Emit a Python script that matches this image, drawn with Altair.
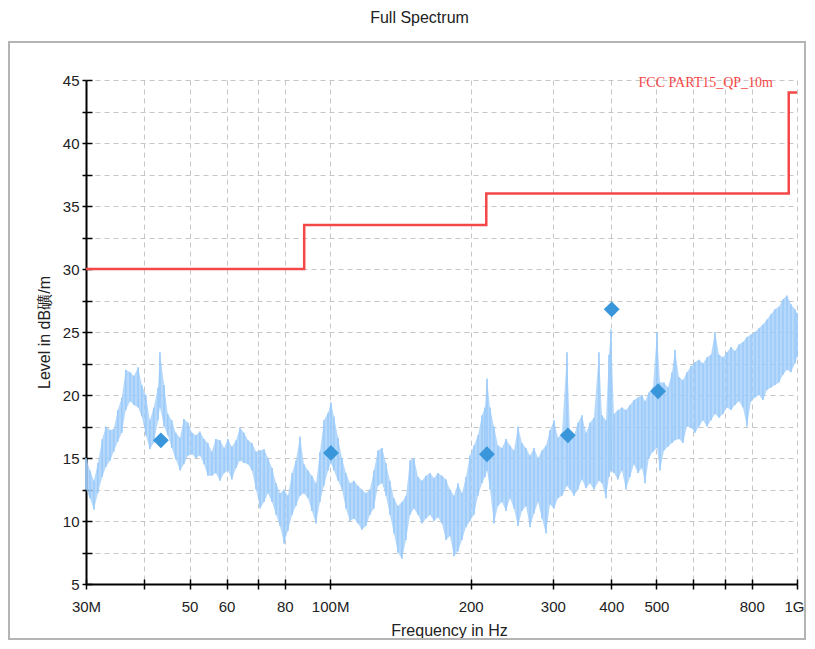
import altair as alt
import pandas as pd

# ---------------- data ----------------
freq_mhz = [30.0, 30.6, 31.2, 31.8, 32.5, 33.1, 33.8, 34.4, 35.1, 35.8, 36.5, 37.3, 38.0, 38.8, 39.5,
            40.3, 41.1, 41.9, 42.8, 43.2, 44.1, 44.9, 45.8, 46.7, 47.7, 48.6, 49.6, 50.6, 51.6, 52.6,
            53.7, 54.7, 55.8, 56.9, 58.1, 59.3, 60.4, 61.6, 62.9, 64.1, 65.4, 66.7, 68.0, 69.4, 70.8,
            72.2, 73.6, 75.1, 76.6, 78.1, 79.7, 81.2, 82.9, 84.5, 86.2, 87.9, 89.7, 91.4, 93.3, 95.1,
            97.0, 99.0, 100.4, 101.9, 104.0, 106.0, 108.1, 110.3, 112.5, 114.7, 117.0, 119.3, 121.7,
            124.1, 126.6, 129.2, 131.7, 134.3, 137.0, 139.7, 142.5, 145.4, 148.3, 151.2, 154.3, 157.3,
            160.4, 163.7, 166.9, 170.2, 173.6, 177.1, 180.6, 184.2, 187.9, 191.6, 195.4, 199.3, 203.3,
            207.4, 211.5, 214.6, 216.8, 220.0, 224.4, 228.8, 233.4, 238.1, 242.8, 247.6, 252.6, 257.6,
            262.7, 268.0, 273.3, 278.8, 284.3, 290.0, 295.7, 301.7, 307.6, 313.8, 321.6, 326.4, 332.9,
            339.5, 346.3, 353.2, 360.2, 367.4, 376.5, 382.2, 389.8, 395.6, 399.5, 405.5, 413.5, 421.8,
            430.2, 438.8, 447.5, 456.5, 465.5, 472.5, 481.8, 491.4, 501.3, 508.8, 518.9, 529.2, 539.8,
            547.9, 558.8, 570.0, 581.3, 592.9, 604.7, 616.7, 629.0, 641.6, 654.3, 667.4, 680.7, 694.1,
            708.0, 722.2, 736.4, 751.1, 766.1, 781.3, 797.0, 812.9, 829.0, 845.5, 862.4, 879.5, 897.1,
            915.0, 933.1, 951.7, 970.8, 989.9, 1000.0]

level_lo = [12.5, 11.8, 10.9, 12.2, 13.5, 14.3, 14.8, 15.5, 16.3, 17.0, 18.8, 19.5, 19.2, 19.0, 18.3,
            16.8, 15.7, 16.2, 18.0, 19.0, 17.5, 16.8, 15.8, 14.9, 14.0, 14.5, 15.2, 15.3, 15.0, 15.2,
            14.5, 13.6, 13.6, 13.8, 13.2, 13.8, 14.0, 13.3, 14.2, 14.8, 14.6, 14.5, 14.0, 12.5, 11.0,
            11.5, 12.2, 11.5, 10.5, 9.6, 8.2, 9.2, 10.5, 11.2, 12.0, 12.2, 11.8, 10.8, 9.8, 11.5,
            12.8, 14.0, 14.6, 14.0, 13.2, 12.5, 11.0, 10.0, 10.2, 9.8, 9.3, 9.6, 10.5,
            11.0, 12.8, 13.0, 12.0, 10.5, 9.0, 7.5, 7.0, 8.5, 10.5, 11.0, 10.5, 9.8,
            10.2, 10.5, 10.0, 10.3, 9.8, 8.5, 8.8, 7.2, 7.6, 8.5, 9.5, 10.0, 10.5,
            12.0, 13.0, 13.5, 14.0, 12.5, 9.8, 11.2, 11.5, 10.8, 11.8, 11.0, 9.6, 10.8,
            11.2, 9.5, 10.6, 11.5, 10.2, 9.0, 11.3, 11.0, 11.8, 12.0, 12.8, 12.5, 12.0,
            12.5, 13.3, 12.6, 13.0, 12.5, 13.2, 13.0, 11.8, 13.5, 14.0, 13.8, 13.3, 14.0,
            12.5, 13.5, 14.5, 13.8, 14.2, 13.0, 15.0, 15.5, 15.8, 14.0, 15.6, 15.9, 16.2,
            16.4, 16.5, 16.2, 17.5, 17.4, 17.0, 17.5, 18.0, 17.5, 18.0, 18.5, 18.2, 18.5,
            19.0, 18.8, 19.2, 19.5, 19.0, 17.5, 19.5, 19.8, 20.0, 19.6, 20.4, 20.6, 20.8,
            21.0, 21.6, 22.0, 21.8, 22.5, 23.0]

level_hi = [15.0, 14.0, 13.2, 14.6, 16.5, 17.5, 17.2, 17.3, 18.8, 19.8, 22.0, 21.8, 21.5, 22.2, 20.8,
            20.0, 18.0, 19.0, 20.6, 23.4, 20.8, 18.5, 18.0, 17.0, 16.6, 18.1, 17.8, 17.0, 16.8, 17.1,
            16.5, 16.2, 15.5, 16.5, 16.4, 15.8, 16.5, 15.9, 16.4, 17.4, 17.0, 16.4, 16.2, 15.5, 15.6,
            15.7, 15.0, 14.2, 13.0, 12.2, 12.5, 12.0, 13.8, 14.8, 16.7, 14.5, 14.0, 13.6, 13.0, 15.5,
            18.0, 18.6, 19.4, 18.3, 16.6, 15.0, 13.8, 13.0, 13.2, 12.8, 12.5, 12.2, 12.5,
            14.0, 15.6, 15.8, 14.6, 13.2, 11.8, 11.2, 11.5, 12.0, 14.8, 15.0, 13.5, 13.2,
            13.6, 13.8, 13.4, 13.8, 13.6, 13.3, 12.5, 12.0, 13.0, 12.2, 13.5, 15.2, 16.0,
            16.8, 18.4, 19.0, 21.3, 19.0, 17.5, 16.0, 15.8, 16.5, 16.0, 15.6, 17.5, 16.2,
            15.8, 15.2, 15.8, 15.0, 15.6, 16.0, 17.2, 18.0, 16.6, 17.0, 23.4, 17.0, 16.8,
            17.8, 18.4, 17.0, 17.8, 18.2, 23.4, 18.4, 18.0, 23.2, 25.2, 18.5, 18.8, 19.0,
            18.8, 19.2, 19.6, 19.8, 20.0, 19.5, 20.2, 20.6, 25.0, 21.0, 21.0, 20.6, 21.8,
            23.6, 21.4, 21.2, 21.8, 22.3, 22.6, 22.8, 22.5, 23.0, 23.2, 25.0, 23.2, 23.0,
            23.4, 23.8, 23.5, 24.0, 24.2, 24.6, 24.8, 25.0, 25.3, 25.6, 26.0, 26.4, 26.8,
            27.0, 27.6, 27.9, 27.2, 26.8, 26.5]

qp_freq = [43.4, 100.4, 216.7, 323.0, 401.0, 504.0]
qp_level = [16.4, 15.4, 15.3, 16.8, 26.8, 20.3]

limit_freq = [30, 88, 216, 960, 1000]
limit_level = [30.0, 33.5, 36.0, 44.0, 44.0]
limit_name = "FCC PART15_QP_10m"

x_ticks = [30, 40, 50, 60, 70, 80, 100, 200, 300, 400, 500, 600, 700, 800, 1000]
x_tick_labels = ["30M", "", "50", "60", "", "80", "100M", "200", "300", "400", "500", "", "", "800", "1G"]
y_ticks = [5, 7.5, 10, 12.5, 15, 17.5, 20, 22.5, 25, 27.5, 30, 32.5, 35, 37.5, 40, 42.5, 45]

title_text = "Full Spectrum"
x_title = "Frequency in Hz"
y_title = "Level in dB" + b"\xb5V".decode("gbk", errors="replace") + "/m"

# ---------------- tables ----------------
spec = pd.DataFrame({"f": freq_mhz, "lo": level_lo, "hi": level_hi})
qp = pd.DataFrame({"f": qp_freq, "v": qp_level})
lim = pd.DataFrame({"f": limit_freq, "v": limit_level})
lim_lab = pd.DataFrame({"f": [limit_freq[-1]], "v": [45.0], "name": [limit_name]})
frame_df = pd.DataFrame({"a": [0]})

# all labels but the last go on the main axis; the last one gets its own axis
label_expr = "''"
for v, l in reversed(list(zip(x_ticks[:-1], x_tick_labels[:-1]))):
    label_expr = f"datum.value == {v} ? '{l}' : ({label_expr})"
last_expr = f"'{x_tick_labels[-1]}'"

W, H = 711, 504
xs = alt.Scale(type="log", domain=[30, 1000], nice=False)
ys = alt.Scale(domain=[5, 45], nice=False, zero=False)
FONT = "Liberation Sans"
SPEC_COL = "#9ccbfa"

x_main = alt.X("f:Q", scale=xs, title=x_title,
               axis=alt.Axis(values=x_ticks, labelExpr=label_expr, grid=True, tickSize=5,
                             labelPadding=10, titlePadding=8, titleX=363, labelFlush=False,
                             labelOverlap=False))
y_main = alt.Y("lo:Q", scale=ys, title=y_title,
               axis=alt.Axis(values=y_ticks, labelExpr="datum.value % 5 == 0 ? '' + datum.value : ''",
                             grid=True, tickSize=4, labelPadding=3, titlePadding=10))

frame = alt.Chart(frame_df).mark_rect(fillOpacity=0, stroke="#b4b4b4", strokeWidth=2).encode(
    x=alt.value(-77), x2=alt.value(719), y=alt.value(-38), y2=alt.value(559))

area = alt.Chart(spec).mark_area(color=SPEC_COL, opacity=0.75).encode(
    x=x_main, y=y_main, y2="hi:Q")

strokes = alt.Chart(spec).mark_rule(color=SPEC_COL, strokeWidth=1.6).encode(
    x=alt.X("f:Q", scale=xs, axis=None), y=alt.Y("lo:Q", scale=ys, axis=None), y2="hi:Q")

limit = alt.Chart(lim).mark_line(color="#f44848", strokeWidth=2.5, interpolate="step-after").encode(
    x=alt.X("f:Q", scale=xs, axis=None), y=alt.Y("v:Q", scale=ys, axis=None))

points = alt.Chart(qp).mark_point(shape="diamond", filled=True, size=250, color="#3a96da", opacity=1).encode(
    x=alt.X("f:Q", scale=xs,
            axis=alt.Axis(orient="top", offset=-H, values=x_ticks, labels=False, domain=False,
                          grid=False, tickSize=5, title=None)),
    y=alt.Y("v:Q", scale=ys,
            axis=alt.Axis(orient="right", offset=-W, values=y_ticks, labels=False, domain=False,
                          grid=False, tickSize=6, title=None)))

lim_text = alt.Chart(lim_lab).mark_text(align="right", baseline="middle", dx=-24, dy=3,
                                        font="Liberation Serif", fontSize=14, color="#f44848").encode(
    x=alt.X("f:Q", scale=xs,
            axis=alt.Axis(orient="bottom", values=[x_ticks[-1]], labelExpr=last_expr, domain=False,
                          ticks=False, grid=False, labelPadding=15, labelOffset=-3,
                          labelFlush=False, title=None)),
    y=alt.Y("v:Q", scale=ys, axis=None), text="name:N")

chart = alt.layer(frame, area, strokes, limit, points, lim_text).resolve_axis(
    x="independent", y="independent"
).properties(
    width=W, height=H,
    title=alt.TitleParams(title_text, font=FONT, fontSize=16, fontWeight="normal", color="#222222",
                          anchor="middle", offset=15, dx=-22),
    autosize=alt.AutoSizeParams(type="none"),
    padding={"left": 78, "top": 72, "right": 10, "bottom": 56},
).configure_view(strokeWidth=0).configure_axis(
    labelFont=FONT, labelFontSize=15, labelColor="#222222",
    titleFont=FONT, titleFontSize=16, titleFontWeight="normal", titleColor="#222222",
    domainColor="#000000", domainWidth=2, tickColor="#000000", tickWidth=1.5,
    gridColor="#c6c6c6", gridDash=[5, 4], gridWidth=1,
)

chart.save("out.html", embed_options={"renderer": "svg", "actions": False})
